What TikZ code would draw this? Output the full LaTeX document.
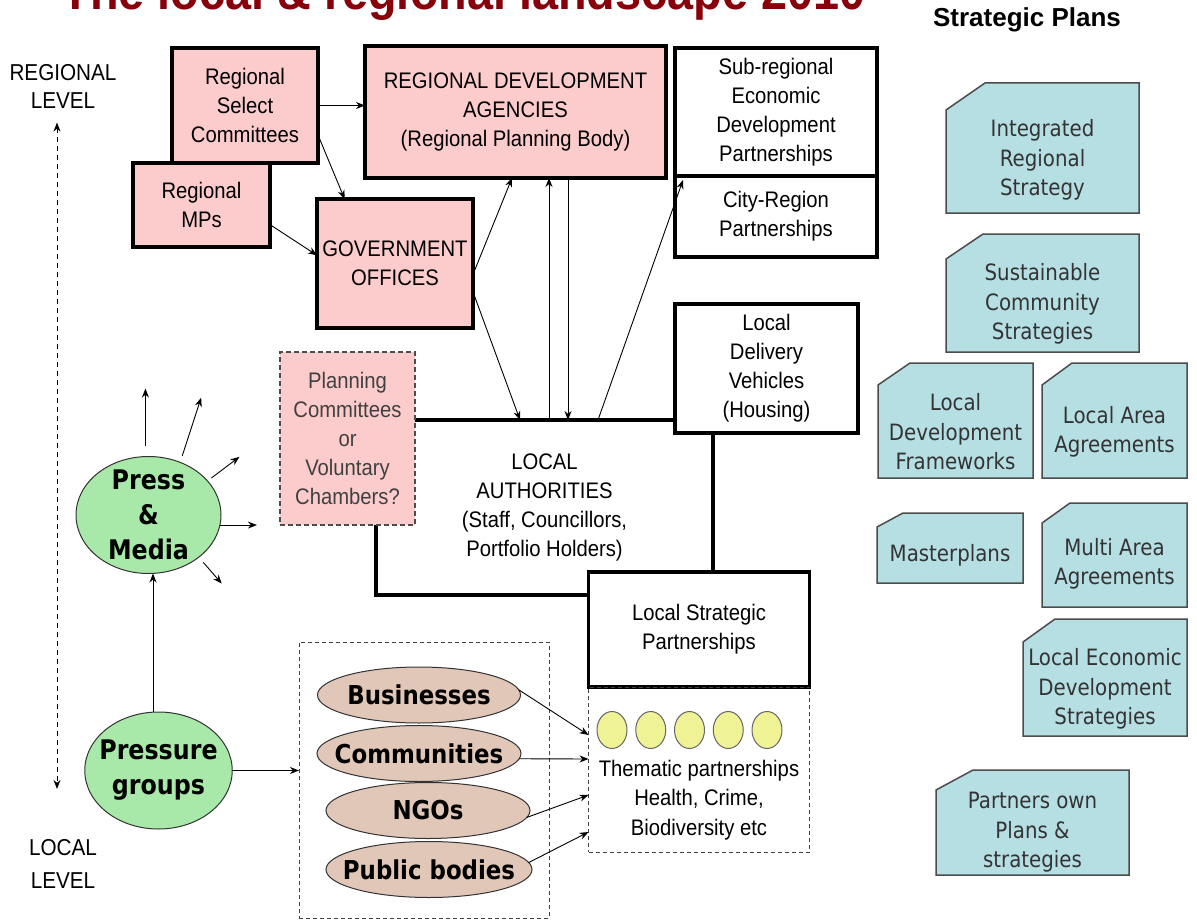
\documentclass[tikz,border=0pt]{standalone}
\usepackage{fontspec}
\setmainfont{Liberation Sans}
\newfontfamily\arialn{Liberation Sans}[FakeStretch=0.9]
\newfontfamily\tahoma{DejaVu Sans}[FakeStretch=0.88]
\usetikzlibrary{positioning}
\usetikzlibrary{arrows.meta,backgrounds,shapes.geometric}

\definecolor{regpink}{RGB}{252,204,204}
\definecolor{planblue}{RGB}{182,223,227}
\definecolor{pressgreen}{RGB}{168,232,168}
\definecolor{grouptan}{RGB}{224,199,184}
\definecolor{dotyellow}{RGB}{240,242,150}
\definecolor{titlered}{RGB}{135,0,10}

\tikzset{
    every picture/.style={>={Stealth[length=9pt,width=7pt]}},
    every edge/.style={draw, line width=0.9pt},
    bigbox/.style={draw, line width=3.5pt, fill=white, align=center, inner sep=0pt, outer sep=0pt,
        font=\arialn\fontsize{22.5}{29}\selectfont},
    regbox/.style={bigbox, fill=regpink},
    dashbox/.style={draw=black!75, line width=1pt, dash pattern=on 4pt off 3pt, inner sep=0pt, outer sep=0pt},
    plan/.style={inner sep=0pt, outer sep=0pt},
    plantext/.style={align=center, text=black!80, font=\tahoma\fontsize{22.5}{29.5}\selectfont},
    planedge/.style={draw=black!70, line width=1.5pt, fill=planblue},
    actor/.style={ellipse, draw=black!80, line width=1pt, fill=pressgreen, align=center, inner sep=-7pt,
        outer sep=0pt, font=\tahoma\bfseries\fontsize{27}{35}\selectfont},
    group/.style={ellipse, draw=black!80, line width=1pt, fill=grouptan, inner sep=0pt, outer sep=0pt,
        minimum height=56pt, font=\tahoma\bfseries\fontsize{26}{30}\selectfont,
        execute at begin node={\hbox to 0pt\bgroup\hss}, execute at end node={\hss\egroup}},
    tdot/.style={ellipse, draw=black!60, line width=1pt, fill=dotyellow, minimum width=30pt,
        minimum height=37pt, inner sep=0pt},
    lvl/.style={<->, line width=1pt, dash pattern=on 5pt off 4pt},
    lvltext/.style={align=center, font=\arialn\fontsize{23}{28}\selectfont},
}

\begin{document}
\begin{tikzpicture}[x=1pt,y=-1pt]
\useasboundingbox (0,0) rectangle (1197,923);

% headings
\node[anchor=base west, text=titlered, font=\arialn\bfseries\fontsize{52}{52}\selectfont] (title) at (58,10)
    {The local \& regional landscape 2010};
\node[font=\bfseries\fontsize{26}{30}\selectfont] (plans) at (1027,20) {Strategic Plans};

% level scale
\node[lvltext] (reg) at (63,86) {REGIONAL\\LEVEL};
\node[lvltext, font=\arialn\fontsize{23}{33}\selectfont] (loc) at (63,864) {LOCAL\\LEVEL};
\draw[lvl] ([shift={(-6pt,-11pt)}]reg.south) -- ([shift={(-6pt,47pt)}]loc.north);

% regional tier
\node[regbox, minimum width=146pt, minimum height=115pt] (rsc) at (245,105.5) {Regional\\Select\\Committees};
\node[regbox, minimum width=137pt, minimum height=84pt] (mps) at (201.5,205) {Regional\\MPs};
\node[regbox, minimum width=301pt, minimum height=132pt] (rda) at (515.5,112)
    {REGIONAL DEVELOPMENT\\AGENCIES\\(Regional Planning Body)};
\node[bigbox, minimum width=202pt, minimum height=128pt] (sub) at (776,112)
    {Sub-regional\\Economic\\Development\\Partnerships};
\node[bigbox, minimum width=202pt, minimum height=81pt] (city) at (776,216.5) {City-Region\\Partnerships};
\node[regbox, minimum width=156pt, minimum height=129pt] (gov) at (395,263.5) {GOVERNMENT\\OFFICES};

% local tier
\node[bigbox, minimum width=337pt, minimum height=175pt] (la) at (544.5,507.5)
    {LOCAL\\AUTHORITIES\\(Staff, Councillors,\\Portfolio Holders)};
\node[regbox, draw=black!70, line width=1.5pt, dash pattern=on 5pt off 3pt, text=black!75,
    minimum width=135pt, minimum height=173pt] (plc) at (347.5,438.5)
    {Planning\\Committees\\or\\Voluntary\\Chambers?};
\node[bigbox, minimum width=183pt, minimum height=129pt] (ldv) at (766.5,368.5)
    {Local\\Delivery\\Vehicles\\(Housing)};
\node[bigbox, minimum width=221pt, minimum height=115pt] (lsp) at (699,629.5)
    {Local Strategic\\Partnerships};

% thematic partnerships
\node[dashbox, minimum width=221pt, minimum height=165pt] (them) at (699,769.5) {};
\foreach \i in {0,...,4}{
  \node[tdot] (d\i) at (612+38.75*\i,730) {};
}
\node[align=center, font=\arialn\fontsize{22.5}{29.5}\selectfont] (themtxt) at (699,800)
    {Thematic partnerships\\Health, Crime,\\Biodiversity etc};

% pressure groups and media
\node[dashbox, minimum width=250pt, minimum height=276pt] (grp) at (424,780) {};
\node[group, minimum width=203pt] (bus) at (419,695) {Businesses};
\node[group, minimum width=204pt] (com) at (419,753.5) {Communities};
\node[group, minimum width=204pt] (ngo) at (428,810.5) {NGOs};
\node[group, minimum width=206pt] (pub) at (429,869.5) {Public bodies};

\node[actor, minimum width=145pt, minimum height=117pt] (pm) at (148.5,515) {Press\\\&\\Media};
\node[actor, minimum width=145pt, minimum height=117pt] (pg) at (158.5,770.5) {Pressure\\groups};

% strategic plans
\node[plan, minimum width=193pt, minimum height=130pt] (irs) at (1042.5,148) {};
\node[plan, minimum width=193pt, minimum height=118pt] (scs) at (1042.5,293) {};
\node[plan, minimum width=155pt, minimum height=115pt] (ldf) at (955.5,420.5) {};
\node[plan, minimum width=145pt, minimum height=115pt] (laa) at (1114.5,420.5) {};
\node[plan, minimum width=146pt, minimum height=70pt] (mpl) at (950,548) {};
\node[plan, minimum width=145pt, minimum height=104pt] (maa) at (1114.5,555) {};
\node[plan, minimum width=164pt, minimum height=117pt] (led) at (1105,677.5) {};
\node[plan, minimum width=193pt, minimum height=105pt] (pop) at (1032.5,822.5) {};

\begin{scope}[on background layer]
\foreach \n/\cx/\cy in {irs/39/27,scs/37/25,ldf/32/22,laa/30/22,mpl/26/14,maa/28/20,led/32/23,pop/37/20}{
  \draw[planedge] ([xshift=\cx pt]\n.north west) -- (\n.north east) -- (\n.south east)
    -- (\n.south west) -- ([yshift=-\cy pt]\n.north west) -- cycle;
}
\end{scope}

\node[plantext] (irstxt) at ([yshift=-12pt]irs.center) {Integrated\\Regional\\Strategy};
\node[plantext] (scstxt) at ([yshift=-11pt]scs.center) {Sustainable\\Community\\Strategies};
\node[plantext] (ldftxt) at ([yshift=-11.5pt]ldf.center) {Local\\Development\\Frameworks};
\node[plantext] (laatxt) at ([yshift=-11.5pt]laa.center) {Local Area\\Agreements};
\node[plantext] (mpltxt) at ([yshift=-7pt]mpl.center) {Masterplans};
\node[plantext] (maatxt) at ([yshift=-9pt]maa.center) {Multi Area\\Agreements};
\node[plantext] (ledtxt) at ([yshift=-11.5pt]led.center) {Local Economic\\Development\\Strategies};
\node[plantext] (poptxt) at ([yshift=-10pt]pop.center) {Partners own\\Plans \&\\strategies};

% links
\path
(rsc.east) edge[->] (rsc.east -| rda.west)
(rsc.-22) edge[->] (gov.128)
(mps.-16) edge[->] (gov.174)
(gov.-8) edge[->] ([xshift=-3.5pt]rda.south)
(gov.-20) edge[->] ([xshift=-24.5pt]la.north)
([xshift=4.5pt]la.north) edge[->] ([xshift=4.5pt]la.north |- rda.south)
([xshift=23.5pt]la.north |- rda.south) edge[->] ([xshift=23.5pt]la.north)
([xshift=53.5pt]la.north) edge[->] ([shift={(8pt,-4pt)}]city.north west)
(pg.east) edge[->] (pg.east -| grp.west)
([xshift=-5.5pt]pg.north) edge[->] ([xshift=-5.5pt]pg.north |- pm.south)
(bus.3) edge[->] ([yshift=34.5pt]them.west)
(com.-3) edge[->] ([yshift=10.5pt]them.west)
(ngo.-4) edge[->] ([yshift=-25.5pt]them.west)
(pub.4) edge[->] ([yshift=-62.5pt]them.west)
;

% media reach
\foreach \a/\d/\g/\l in {93/90/11/57, 59/72/7/61, 30/37/5/35, -8/0/0/37, -40/-49/7/28}{
  \draw[->, line width=0.9pt] (pm.\a) ++(\d:\g pt) -- ++(\d:\l pt);
}

\end{tikzpicture}
\end{document}
